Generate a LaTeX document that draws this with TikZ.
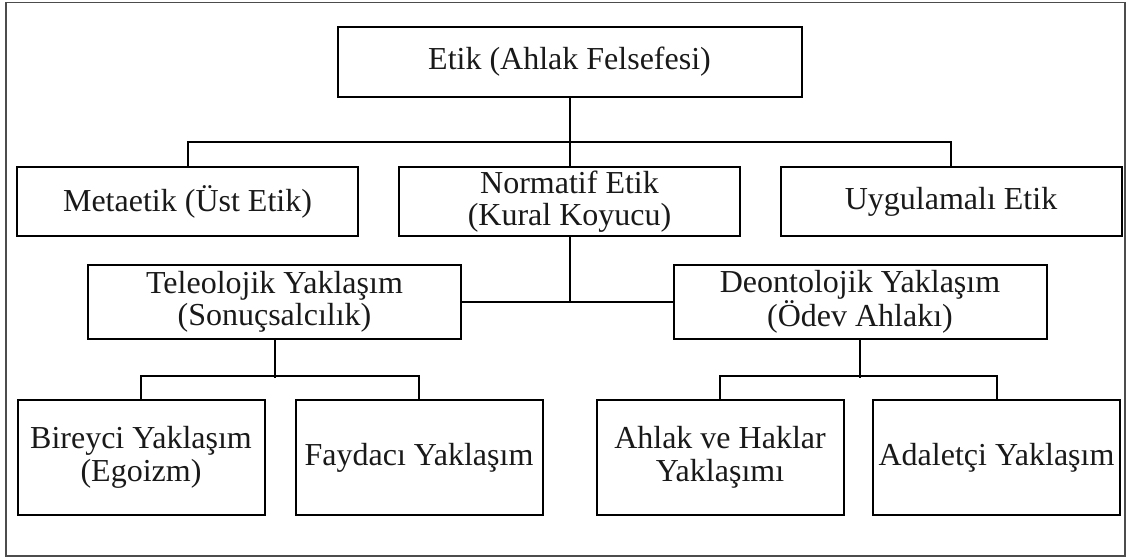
\documentclass[tikz,border=0pt]{standalone}
\usepackage{fontspec}
\setmainfont{Liberation Serif}
\begin{document}
\begin{tikzpicture}[x=1pt,y=-1pt,
  box/.style={draw=black, line width=2pt, inner sep=0pt, align=center,
    font=\fontsize{32}{32.5}\selectfont, text=black!90},
  lvlone/.style={box, minimum width=341pt, minimum height=69pt},
  lvltwo/.style={box, minimum width=373pt, minimum height=74pt},
  lvlthree/.style={box, minimum width=247pt, minimum height=115pt},
  conn/.style={draw=black, line width=2pt}]
\useasboundingbox (0,0) rectangle (1129,559);
% outer frame
\draw[black!70, line width=1.3pt] (6,2.5) rectangle (1125,556);

% root
\node[box, minimum width=464pt, minimum height=70pt] (etik) at (569.5,62) {Etik (Ahlak Felsefesi)};

% first level
\node[lvlone] (meta) at (187.5,201.5) {Metaetik (Üst Etik)};
\node[lvlone] (norm) at (569.5,201.5) {Normatif Etik\\(Kural Koyucu)};
\node[lvlone] (uyg)  at (951,201.5) {Uygulamalı Etik};

% second level
\node[lvltwo] (tele) at (274.5,302) {Teleolojik Yaklaşım\\(Sonuçsalcılık)};
\node[lvltwo] (deon) at (860,302) {Deontolojik Yaklaşım\\(Ödev Ahlakı)};

% third level
\node[lvlthree] (bir) at (141,457.5) {Bireyci Yaklaşım\\(Egoizm)};
\node[lvlthree] (fay) at (419,457.5) {Faydacı Yaklaşım};
\node[lvlthree] (ahl) at (720,457.5) {Ahlak ve Haklar\\Yaklaşımı};
\node[lvlthree] (ada) at (996.5,457.5) {Adaletçi Yaklaşım};

% connectors
\draw[conn] (etik.south) -- (norm.north);
\draw[conn] (meta.north) -- ++(0,-24) -| (uyg.north);

\draw[conn] (tele.east) -- (deon.west);
\draw[conn] (norm.south) -- (norm.south |- tele.east);

\draw[conn] (tele.south) -- ++(0,38);
\draw[conn] (bir.north) -- ++(0,-23) -| (fay.north);

\draw[conn] (deon.south) -- ++(0,38);
\draw[conn] (ahl.north) -- ++(0,-23) -| (ada.north);
\end{tikzpicture}
\end{document}
